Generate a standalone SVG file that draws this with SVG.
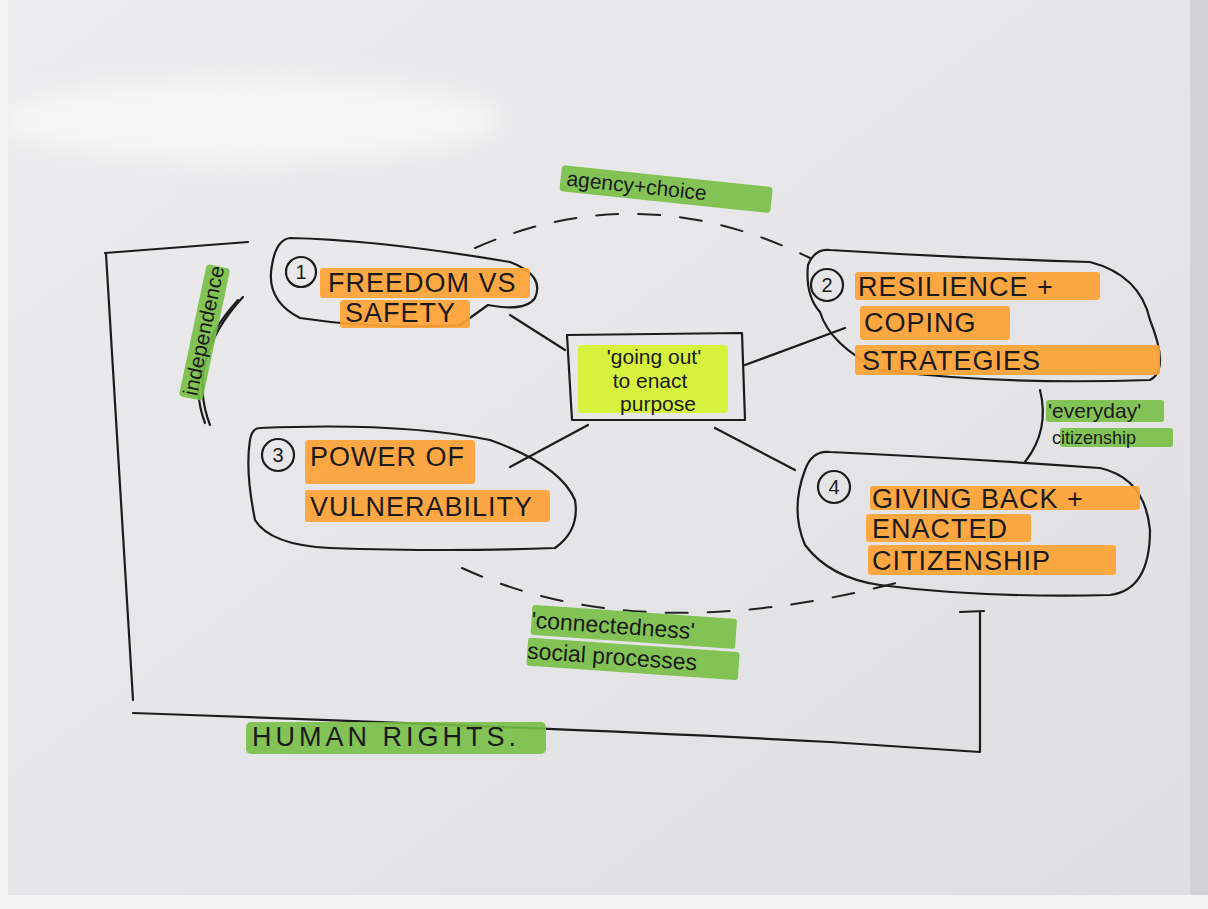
<svg xmlns="http://www.w3.org/2000/svg" width="1208" height="909" viewBox="0 0 1208 909">
<style>
.ink{fill:none;stroke:#1c1c1c;stroke-width:2.2;stroke-linecap:round;stroke-linejoin:round}
.dash{fill:none;stroke:#222;stroke-width:2;stroke-dasharray:22 20;stroke-linecap:round}
.hl-o{fill:#ffa235;opacity:0.92}
.hl-g{fill:#78bf45;opacity:0.9}
.hl-l{fill:#d6f23c}
.big{font-family:"Liberation Sans",Arial,sans-serif;font-size:27px;fill:#1a1a1a;letter-spacing:1px}
.sm{font-family:"Liberation Sans",Arial,sans-serif;font-size:21px;fill:#1a1a1a}
.mid{text-anchor:middle}
.num{font-family:"Liberation Sans",Arial,sans-serif;font-size:20px;fill:#1a1a1a;text-anchor:middle}
</style>
<defs>
<linearGradient id="paper" x1="0" y1="0" x2="1" y2="1">
<stop offset="0" stop-color="#ececee"/>
<stop offset="0.5" stop-color="#e6e6e8"/>
<stop offset="1" stop-color="#dedee0"/>
</linearGradient>
<filter id="blur" x="-20%" y="-50%" width="140%" height="200%"><feGaussianBlur stdDeviation="12"/></filter>
</defs>
<rect x="0" y="0" width="1208" height="909" fill="url(#paper)"/>
<rect x="1190" y="0" width="18" height="909" fill="#d2d2d4"/>
<rect x="0" y="895" width="1208" height="14" fill="#f4f4f4"/>
<rect x="0" y="0" width="8" height="909" fill="#f4f4f4"/>
<ellipse cx="250" cy="120" rx="250" ry="40" fill="#f7f7f8" filter="url(#blur)"/>

<g id="frame">
<path class="ink" d="M105,253 L248,242 M106,254 L133,700 M133,713 Q560,728 830,742 L980,752 L980,612 M960,612 L984,611"/>
</g>

<g id="connectors">
<path class="ink" d="M510,315 L565,350"/>
<path class="ink" d="M745,365 L845,328"/>
<path class="ink" d="M588,425 L510,467"/>
<path class="ink" d="M715,428 L795,470"/>
<path class="dash" d="M475,248 Q640,175 810,258"/>
<path class="dash" d="M462,568 Q640,650 900,582"/>
<path class="ink" d="M243,297 Q185,360 210,425"/>
<path class="ink" d="M238,300 Q182,362 205,423"/>
<path class="ink" d="M1040,390 Q1050,430 1025,462"/>
</g>

<g id="label-agency">
<g transform="rotate(6 665 190)">
<rect class="hl-g" x="560" y="176" width="212" height="26" rx="4"/>
<text class="sm" x="566" y="196">agency+choice</text>
</g>
</g>

<g id="label-independence">
<g transform="rotate(-78 205 335)">
<rect class="hl-g" x="140" y="322" width="135" height="24" rx="4"/>
<text class="sm" x="143" y="340">independence</text>
</g>
</g>

<g id="node1">
<path class="ink" d="M290,238 Q380,240 510,262 Q545,275 535,298 Q525,312 488,305 Q470,318 460,325 Q380,330 300,318 Q265,300 272,265 Q276,240 290,238 Z"/>
<circle class="ink" cx="301" cy="272" r="15"/>
<text class="num" x="301" y="279">1</text>
<rect class="hl-o" x="320" y="268" width="210" height="30" rx="3"/>
<rect class="hl-o" x="340" y="300" width="130" height="28" rx="3"/>
<text class="big" x="328" y="292">FREEDOM VS</text>
<text class="big" x="345" y="322">SAFETY</text>
</g>

<g id="node2">
<path class="ink" d="M830,250 Q960,258 1090,262 Q1140,275 1150,320 Q1170,370 1150,380 Q1000,385 880,370 Q830,345 820,312 Q805,295 808,265 Q815,248 830,250 Z"/>
<circle class="ink" cx="827" cy="285" r="16"/>
<text class="num" x="827" y="292">2</text>
<rect class="hl-o" x="855" y="272" width="245" height="28" rx="3"/>
<rect class="hl-o" x="860" y="306" width="150" height="34" rx="3"/>
<rect class="hl-o" x="855" y="345" width="305" height="30" rx="3"/>
<text class="big" x="858" y="296">RESILIENCE +</text>
<text class="big" x="864" y="332">COPING</text>
<text class="big" x="862" y="370">STRATEGIES</text>
</g>

<g id="node-center">
<path class="ink" d="M567,335 L742,333 L745,420 L572,420 Z"/>
<rect class="hl-l" x="578" y="345" width="150" height="68" rx="4"/>
<text class="sm mid" x="654" y="364">'going out'</text>
<text class="sm mid" x="650" y="388">to enact</text>
<text class="sm mid" x="658" y="411">purpose</text>
</g>

<g id="node3">
<path class="ink" d="M260,428 Q400,422 490,440 Q560,465 575,500 Q580,530 555,548 Q450,552 330,548 Q270,545 255,520 Q245,470 250,440 Q252,428 260,428 Z"/>
<circle class="ink" cx="278" cy="455" r="16"/>
<text class="num" x="278" y="462">3</text>
<rect class="hl-o" x="305" y="440" width="170" height="44" rx="3"/>
<rect class="hl-o" x="305" y="490" width="245" height="32" rx="3"/>
<text class="big" x="310" y="466">POWER OF</text>
<text class="big" x="310" y="516">VULNERABILITY</text>
</g>

<g id="node4">
<path class="ink" d="M830,452 Q960,458 1100,468 Q1145,478 1150,530 Q1150,590 1110,595 Q980,598 880,585 Q830,578 805,545 Q790,510 805,470 Q812,450 830,452 Z"/>
<circle class="ink" cx="834" cy="487" r="16"/>
<text class="num" x="834" y="494">4</text>
<rect class="hl-o" x="870" y="486" width="270" height="24" rx="3"/>
<rect class="hl-o" x="866" y="514" width="165" height="28" rx="3"/>
<rect class="hl-o" x="868" y="545" width="248" height="30" rx="3"/>
<text class="big" x="872" y="508">GIVING BACK +</text>
<text class="big" x="872" y="538">ENACTED</text>
<text class="big" x="872" y="570">CITIZENSHIP</text>
</g>

<g id="label-everyday">
<rect class="hl-g" x="1046" y="400" width="118" height="22" rx="3"/>
<rect class="hl-g" x="1060" y="428" width="113" height="19" rx="3"/>
<text class="sm" x="1048" y="418">'everyday'</text>
<text class="sm" x="1052" y="444" style="font-size:18px">citizenship</text>
</g>

<g id="label-connectedness">
<g transform="rotate(4 635 645)">
<rect class="hl-g" x="530" y="612" width="205" height="30" rx="3"/>
<rect class="hl-g" x="528" y="645" width="212" height="28" rx="3"/>
<text class="sm" x="530" y="635" style="font-size:23px">'connectedness'</text>
<text class="sm" x="528" y="666" style="font-size:23px">social processes</text>
</g>
</g>

<g id="label-human-rights">
<rect class="hl-g" x="246" y="722" width="300" height="32" rx="5"/>
<text class="big" x="252" y="746" style="letter-spacing:4px">HUMAN RIGHTS.</text>
</g>
</svg>
